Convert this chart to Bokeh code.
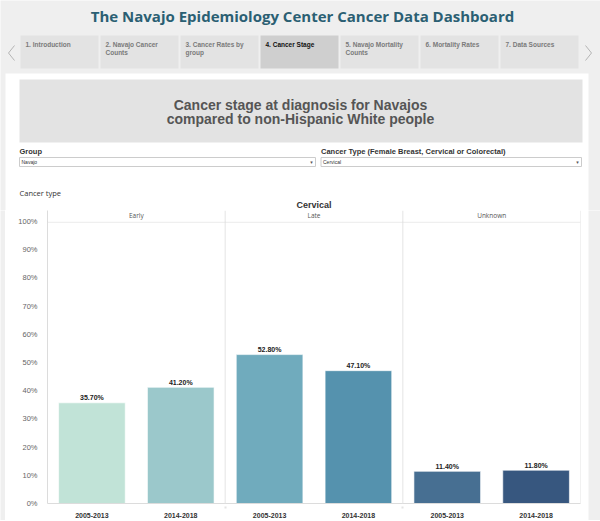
from bokeh.plotting import figure
from bokeh.models import (ColumnDataSource, FactorRange, Range1d, FixedTicker,
                          NumeralTickFormatter, Span, BoxAnnotation)
from bokeh.layouts import column, row
from bokeh.core.properties import value
from bokeh.embed import file_html
from bokeh.resources import INLINE

# ---------------- data ----------------
dashboard_title = "The Navajo Epidemiology Center Cancer Data Dashboard"
tab_labels = ["1. Introduction", "2. Navajo Cancer\nCounts", "3. Cancer Rates by\ngroup",
              "4. Cancer Stage", "5. Navajo Mortality\nCounts", "6. Mortality Rates",
              "7. Data Sources"]
selected_tab = 3
header_lines = ["Cancer stage at diagnosis for Navajos",
                "compared to non-Hispanic White people"]
group_selected = "Navajo"
cancer_selected = "Cervical"

stage_names = ["Early", "Late", "Unknown"]
stages = ["Early", "Early", "Late", "Late", "Unknown", "Unknown"]
periods = ["2005-2013", "2014-2018", "2005-2013", "2014-2018", "2005-2013", "2014-2018"]
percents = [35.7, 41.2, 52.8, 47.1, 11.4, 11.8]
y_ticks = [0, 10, 20, 30, 40, 50, 60, 70, 80, 90, 100]

bar_colors = ["#c1e3d7", "#9bc8cb", "#70abbd", "#5592ae", "#476f92", "#37577f"]

W = 600
H1 = 210
H2 = 310
BG = "#efefef"
SANS = value("Liberation Sans")
BOOK = value("Open Sans")


def blank(width, height, color):
    f = figure(width=width, height=height, x_range=Range1d(0, 1), y_range=Range1d(0, 1),
               toolbar_location=None, output_backend="svg", min_border=0,
               x_axis_location=None, y_axis_location=None)
    f.grid.visible = False
    f.outline_line_color = None
    f.background_fill_color = color
    f.border_fill_color = color
    f.frame_align = False
    return f


# ---------------- header (dashboard chrome) ----------------
hdr = figure(width=W, height=H1, x_range=Range1d(0, W), y_range=Range1d(H1, 0),
             toolbar_location=None, output_backend="svg", min_border=0,
             x_axis_location=None, y_axis_location=None)
hdr.frame_align = False
hdr.grid.visible = False
hdr.outline_line_color = None
hdr.background_fill_color = BG
hdr.border_fill_color = BG

# white content panel
hdr.quad(left=[5], right=[588], top=[73], bottom=[H1 + 5], fill_color="white", line_color=None)

# title
hdr.text(x=[302], y=[15.5], text=[dashboard_title], text_font=BOOK, text_font_style="bold",
         text_font_size="15px", text_color="#2b5f73", text_align="center", text_baseline="middle")

# tabs
tab_left = [20 + 80 * i for i in range(len(tab_labels))]
tab_right = [l + 78 for l in tab_left]
tab_fill = ["#cfcfcf" if i == selected_tab else "#e3e3e3" for i in range(len(tab_labels))]
tab_txt = ["#111111" if i == selected_tab else "#7a7a7a" for i in range(len(tab_labels))]
hdr.quad(left=tab_left, right=tab_right, top=[35] * 7, bottom=[68] * 7,
         fill_color=tab_fill, line_color=None)
hdr.text(x=[l + 5 for l in tab_left], y=[40] * 7, text=tab_labels, text_font=SANS,
         text_font_style="bold", text_font_size="6.5px", text_color=tab_txt,
         text_align="left", text_baseline="top", text_line_height=1.25)
# chevrons
hdr.line(x=[14, 8, 14], y=[45, 52.5, 60], line_color="#b5b5b5", line_width=1)
hdr.line(x=[585, 591, 585], y=[45, 52.5, 60], line_color="#b5b5b5", line_width=1)

# header box
hdr.quad(left=[19], right=[582], top=[79], bottom=[142], fill_color="#e3e3e3", line_color=None)
hdr.text(x=[300, 300], y=[104, 118.5], text=header_lines, text_font=SANS, text_font_style="bold",
         text_font_size="14px", text_color="#555555", text_align="center", text_baseline="middle")

# filters
hdr.text(x=[19, 320.5], y=[151, 151], text=["Group", "Cancer Type (Female Breast, Cervical or Colorectal)"],
         text_font=SANS, text_font_style="bold", text_font_size="7.5px", text_color="#333333",
         text_align="left", text_baseline="middle")
hdr.quad(left=[19, 320.5], right=[315, 581], top=[157, 157], bottom=[166, 166],
         fill_color="white", line_color="#cccccc", line_width=1)
hdr.text(x=[21, 322.5], y=[161.5, 161.5], text=[group_selected, cancer_selected], text_font=SANS,
         text_font_size="5px", text_color="#333333", text_align="left", text_baseline="middle")
hdr.text(x=[311, 577], y=[161.5, 161.5], text=["\u25BE", "\u25BE"], text_font=value("DejaVu Sans"),
         text_font_size="5px", text_color="#555555", text_align="center", text_baseline="middle")

# "Cancer type" caption and sheet title
hdr.text(x=[19], y=[192.7], text=["Cancer type"], text_font=BOOK, text_font_size="7.5px",
         text_color="#333333", text_align="left", text_baseline="middle")
hdr.text(x=[313.5], y=[204], text=[cancer_selected], text_font=SANS, text_font_style="bold",
         text_font_size="9px", text_color="#333333", text_align="center", text_baseline="middle")

# ---------------- chart ----------------
factors = list(zip(stages, periods))
src = ColumnDataSource(dict(x=factors, share=[v / 100 for v in percents],
                            label=[f"{v:.2f}%" for v in percents], color=bar_colors))

xr = FactorRange(*factors, range_padding=0, factor_padding=0, group_padding=0, subgroup_padding=0)
p = figure(width=583, height=H2, x_range=xr, y_range=Range1d(0, 1.039),
           toolbar_location=None, output_backend="svg",
           min_border_left=42, min_border_right=8, min_border_top=0, min_border_bottom=15)
p.frame_align = False
p.background_fill_color = "white"
p.border_fill_color = "white"
p.outline_line_color = None
p.grid.visible = False

p.vbar(x="x", top="share", width=0.75, source=src, fill_color="color",
       line_color="white", line_alpha=0.6, line_width=1)
p.text(x="x", y="share", text="label", source=src, y_offset=-1.5, text_font=SANS,
       text_font_style="bold", text_font_size="7px", text_color="#222222",
       text_align="center", text_baseline="bottom")
p.text(x=stage_names, y=[1.021] * 3, text=stage_names, text_font=BOOK, text_font_size="6.5px",
       text_color="#555555", text_align="center", text_baseline="middle")

# facet dividers and header rule
for loc in [2, 4, 6]:
    p.add_layout(Span(location=loc, dimension="height", line_color="#e4e4e4", line_width=1))
for yv in [0.997, 0.0]:
    p.add_layout(BoxAnnotation(bottom=yv, top=yv, left=-29, left_units="screen",
                               fill_alpha=0, line_color="#dedede", line_width=1))

yax = p.yaxis[0]
yax.ticker = FixedTicker(ticks=[t / 100 for t in y_ticks])
yax.formatter = NumeralTickFormatter(format="0%")
yax.major_label_text_font = "Liberation Sans"
yax.major_label_text_font_size = "7.5px"
yax.major_label_text_color = "#666666"
yax.major_tick_line_color = None
yax.minor_tick_line_color = None
yax.axis_line_color = "#dcdcdc"
yax.major_label_standoff = 4

xax = p.xaxis[0]
xax.major_label_text_font = "Liberation Sans"
xax.major_label_text_font_style = "bold"
xax.major_label_text_font_size = "7px"
xax.major_label_text_color = "#333333"
xax.major_label_standoff = 3
xax.major_tick_line_color = None
xax.axis_line_color = "#dcdcdc"
xax.group_text_font_size = "1px"
xax.group_text_color = None
xax.separator_line_color = "#e4e4e4"

left_pad = blank(5, H2, BG)
right_pad = blank(12, H2, BG)

layout = column(hdr, row(left_pad, p, right_pad, spacing=0), spacing=0)
open("out.html", "w").write(file_html(layout, INLINE))
